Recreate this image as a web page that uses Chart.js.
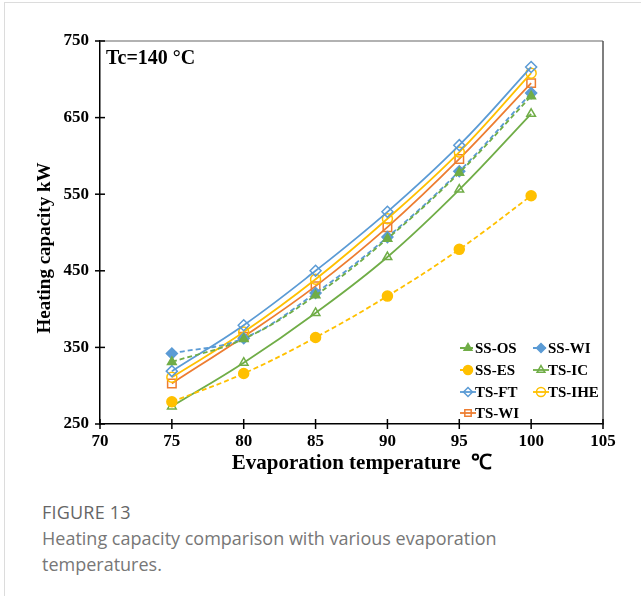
<!DOCTYPE html>
<html lang="en">
  <head>
    <meta charset="UTF-8" />
    <title>Heating capacity vs evaporation temperature</title>
    <script src="https://cdn.jsdelivr.net/npm/chart.js@4.4.0/dist/chart.umd.min.js"></script>
    <style>
      body { margin: 0; background: #fff; }
      #frame {
        position: absolute; left: 4px; top: 2px; width: 700px; height: 700px;
        border: 1px solid #dcdcdc; box-sizing: border-box;
      }
      #wrap { position: absolute; left: 0; top: 0; width: 641px; height: 480px; }
      #caption {
        position: absolute; left: 42px; top: 499px; width: 480px;
        font-family: "Open Sans", sans-serif; color: #777; font-size: 18px; line-height: 26px;
      }
      #caption .fig { color: #666; font-size: 18px; letter-spacing: 0.2px; }
    </style>
  </head>
  <body>
    <div id="frame"></div>
    <div id="wrap"><canvas id="heatChart" width="641" height="480"></canvas></div>
    <div id="caption">
      <div class="fig">FIGURE 13</div>
      <div>Heating capacity comparison with various evaporation temperatures.</div>
    </div>

<script>
// evaporation temperature, °C
const evapTemp = [75, 80, 85, 90, 95, 100];
const xTicks = [70, 75, 80, 85, 90, 95, 100, 105];
const yTicks = [250, 350, 450, 550, 650, 750];

// heating capacity, kW
const ssOS  = [331, 361, 418, 492, 578, 678];
const ssWI  = [342, 362, 421, 494, 580, 682];
const ssES  = [279, 316, 363, 417, 478, 548];
const tsIC  = [273, 330, 395, 468, 556, 655];
const tsFT  = [319, 379, 450, 527, 614, 716];
const tsIHE = [311, 370, 439, 518, 605, 708];
const tsWI  = [303, 364, 430, 507, 596, 695];

const green = '#70AD47', blue = '#5B9BD5', yellow = '#FFC000', orange = '#ED7D31';

function pts(ys) {
  return evapTemp.map((x, i) => ({ x: x, y: ys[i] }));
}

function series(label, ys, color, style, filled, dashed) {
  return {
    label: label,
    data: pts(ys),
    borderColor: color,
    backgroundColor: filled ? color : '#fff',
    pointBorderColor: color,
    pointBackgroundColor: filled ? color : 'rgba(255,255,255,0)',
    pointStyle: style,
    pointRadius: 5,
    pointBorderWidth: 1.5,
    borderWidth: 1.8,
    borderDash: dashed ? [5, 3] : [],
    tension: 0.4,
    fill: false
  };
}

const datasets = [
  series('SS-OS', ssOS, green, 'triangle', true, true),
  series('SS-WI', ssWI, blue, 'rectRot', true, true),
  series('SS-ES', ssES, yellow, 'circle', true, true),
  series('TS-IC', tsIC, green, 'triangle', false, false),
  series('TS-FT', tsFT, blue, 'rectRot', false, false),
  series('TS-IHE', tsIHE, yellow, 'circle', false, false),
  series('TS-WI', tsWI, orange, 'rect', false, false)
];
datasets[1].pointRadius = 5.5;
datasets[4].pointRadius = 5.5;
datasets[6].pointRadius = 6;

const serif = '"Liberation Serif", "Times New Roman", serif';

// frame, cross ticks, titles and legend
const decor = {
  id: 'decor',
  afterDraw(chart) {
    const c = chart.ctx, a = chart.chartArea;
    const xs = chart.scales.x, ys = chart.scales.y;
    c.save();
    c.strokeStyle = '#999'; c.lineWidth = 1.5;
    c.beginPath(); c.moveTo(a.left, a.top); c.lineTo(a.right, a.top); c.stroke();
    c.strokeStyle = '#555';
    c.beginPath(); c.moveTo(a.right, a.top); c.lineTo(a.right, a.bottom); c.stroke();
    c.strokeStyle = '#000'; c.lineWidth = 1.5;
    yTicks.forEach(v => {
      const y = ys.getPixelForValue(v);
      c.beginPath(); c.moveTo(a.left - 5, y); c.lineTo(a.left + 5, y); c.stroke();
    });
    xTicks.forEach(v => {
      const x = xs.getPixelForValue(v);
      c.beginPath(); c.moveTo(x, a.bottom - 5); c.lineTo(x, a.bottom + 5); c.stroke();
    });
    c.fillStyle = '#000';
    c.textBaseline = 'middle'; c.textAlign = 'center';
    c.font = 'bold 21px ' + serif;
    c.fillText('Evaporation temperature  \u2103', 362, 464);
    c.save();
    c.translate(45, 248); c.rotate(-Math.PI / 2);
    c.font = 'bold 19px ' + serif;
    c.fillText('Heating capacity kW', 0, 0);
    c.restore();

    c.textAlign = 'left';
    c.font = 'bold 20px ' + serif;
    c.fillText('Tc=140 \u00B0C', a.left + 6, a.top + 18);

    // legend, 2 columns
    c.font = 'bold 15px ' + serif;
    const cols = [468, 541], rows = [348, 370, 392, 413];
    chart.data.datasets.forEach((ds, i) => {
      const cx = cols[i % 2], cy = rows[Math.floor(i / 2)];
      c.strokeStyle = ds.borderColor; c.lineWidth = 1.8;
      c.setLineDash(ds.borderDash);
      c.beginPath(); c.moveTo(cx - 8, cy); c.lineTo(cx + 8, cy); c.stroke();
      c.setLineDash([]);
      c.lineWidth = 1.5;
      c.fillStyle = ds.pointBackgroundColor;
      Chart.helpers.drawPoint(c, { pointStyle: ds.pointStyle, radius: 4.5, borderWidth: 1.5, rotation: 0 }, cx, cy);
      c.fillStyle = '#000';
      c.fillText(ds.label, cx + 7, cy + 1);
    });
    c.restore();
  }
};

new Chart(document.getElementById('heatChart').getContext('2d'), {
  type: 'line',
  data: { datasets: datasets },
  plugins: [decor],
  options: {
    responsive: false,
    animation: false,
    layout: { padding: { left: 0, top: 41, right: 38, bottom: 0 } },
    plugins: { legend: { display: false }, tooltip: { enabled: false } },
    scales: {
      x: {
        type: 'linear', min: 70, max: 105,
        afterBuildTicks: s => { s.ticks = xTicks.map(v => ({ value: v })); },
        afterFit: s => { s.height = 56; },
        grid: { display: false, drawTicks: false },
        border: { display: true, color: '#000', width: 1.5 },
        ticks: { color: '#000', padding: 7, font: { family: serif, size: 17, weight: 'bold' } }
      },
      y: {
        min: 250, max: 750,
        afterBuildTicks: s => { s.ticks = yTicks.map(v => ({ value: v })); },
        afterFit: s => { s.width = 100; },
        grid: { display: false, drawTicks: false },
        border: { display: true, color: '#000', width: 1.5 },
        ticks: { color: '#000', padding: 11, font: { family: serif, size: 17, weight: 'bold' } }
      }
    }
  }
});
</script>
  </body>
</html>
